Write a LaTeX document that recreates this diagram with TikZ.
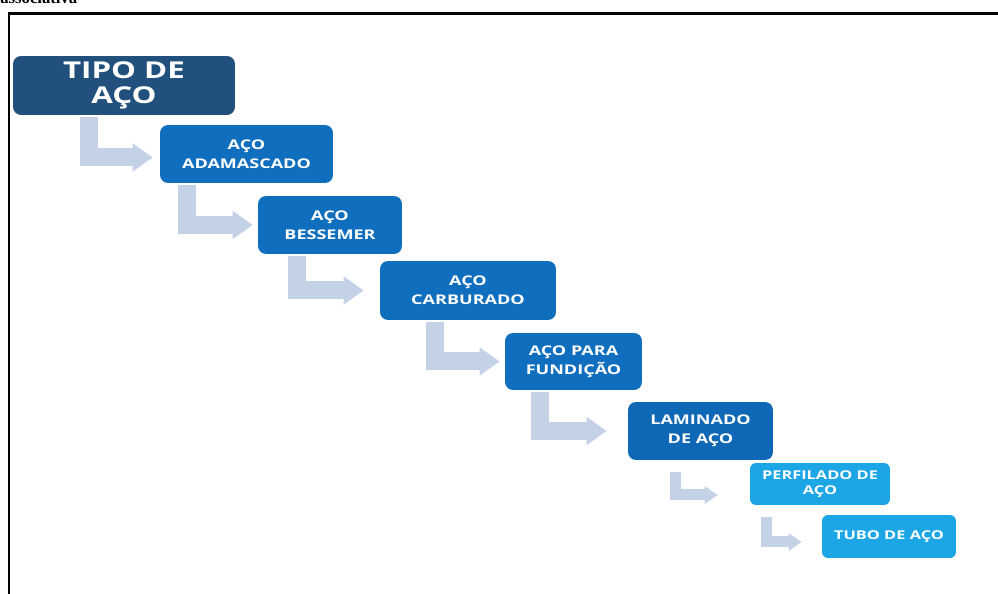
\documentclass[tikz,border=0pt]{standalone}
\usepackage{fontspec}
\usepackage{tikz}
\usetikzlibrary{arrows.meta}
\newfontfamily\caixafont[FakeStretch=1.35]{Open Sans}
\newfontfamily\serifafont{Liberation Serif}
\definecolor{escuro}{RGB}{33,80,124}
\definecolor{azul}{RGB}{16,110,190}
\definecolor{laminado}{RGB}{14,104,182}
\definecolor{claro}{RGB}{28,166,230}
\definecolor{setacor}{RGB}{196,210,232}

\begin{document}
\begin{tikzpicture}[x=0.02cm, y=-0.02cm,
        caixa/.style={rounded corners=0.16cm, text=white, align=center, inner sep=0pt,
            font=\caixafont\bfseries\fontsize{7.6}{11}\selectfont},
        seta/.style={draw=setacor, line width=0.36cm, line join=miter,
            -{Triangle[length=0.4cm, width=0.54cm]}},
        setinha/.style={draw=setacor, line width=0.22cm, line join=miter,
            -{Triangle[length=0.26cm, width=0.34cm]}}]
        \useasboundingbox (0, 0) rectangle (998, 594);
        \node[anchor=base west, font=\serifafont\bfseries\fontsize{9.5}{10}\selectfont, inner sep=0pt] (titulo) at (0, 4) {associativa};
        \draw[line width=0.06cm] (9, 610) -- (9, 14) -- (1010, 14);
        \node[caixa, fill=escuro, minimum width=4.44cm, minimum height=1.18cm,
            font=\caixafont\bfseries\fontsize{13.2}{14.4}\selectfont] (tipo) at (124, 85.5) {TIPO DE\\AÇO};
        \node[caixa, fill=azul, minimum width=3.46cm, minimum height=1.16cm] (adam) at (246.5, 154) {AÇO\\ADAMASCADO};
        \node[caixa, fill=azul, minimum width=2.88cm, minimum height=1.16cm] (bess) at (330, 225) {AÇO\\BESSEMER};
        \node[caixa, fill=azul, minimum width=3.52cm, minimum height=1.18cm] (carb) at (468, 290.5) {AÇO\\CARBURADO};
        \node[caixa, fill=azul, minimum width=2.74cm, minimum height=1.14cm] (fund) at (573.5, 361.5) {AÇO PARA\\FUNDIÇÃO};
        \node[caixa, fill=laminado, minimum width=2.9cm, minimum height=1.16cm] (lami) at (700.5, 431) {LAMINADO\\DE AÇO};
        \node[caixa, fill=claro, minimum width=2.8cm, minimum height=0.84cm, rounded corners=0.12cm,
            font=\caixafont\bfseries\fontsize{6.9}{8.5}\selectfont] (perf) at (820, 484) {PERFILADO DE\\AÇO};
        \node[caixa, fill=claro, minimum width=2.68cm, minimum height=0.86cm, rounded corners=0.12cm,
            font=\caixafont\bfseries\fontsize{6.9}{8.5}\selectfont] (tubo) at (889, 536.5) {TUBO DE AÇO};
        \foreach \a/\b/\dx/\gap/\dy in {tipo/adam/1.52/0.14/0.07, adam/bess/0.54/0.10/0,
                bess/carb/0.78/0.32/0, carb/fund/1.10/0.10/0, fund/lami/0.70/0.42/0}
            \draw[seta] ([xshift=\dx cm, yshift=-0.04cm]\a.south west) |- ([xshift=-\gap cm, yshift=-\dy cm]\b.west);
        \draw[setinha] ([xshift=0.96cm, yshift=-0.24cm]lami.south west) |- ([xshift=-0.64cm, yshift=-0.22cm]perf.west);
        \draw[setinha] ([xshift=0.34cm, yshift=-0.24cm]perf.south west) |- ([xshift=-0.40cm, yshift=-0.11cm]tubo.west);
    \end{tikzpicture}
\end{document}
